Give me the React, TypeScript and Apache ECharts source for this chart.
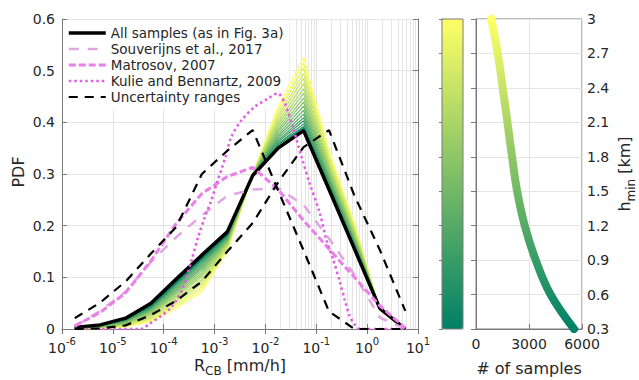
import React, { useEffect, useRef } from 'react';
import * as echarts from 'echarts';

// ---------- data ----------
// bin centres of R_CB, as log10 exponents
const binExp = [-5.75, -5.25, -4.75, -4.25, -3.75, -3.25, -2.75, -2.25, -1.75, -1.25, -0.75, -0.25, 0.25, 0.75];

const allSamples = [0.003, 0.008, 0.021, 0.05, 0.097, 0.143, 0.188, 0.297, 0.35, 0.384, 0.27, 0.155, 0.04, 0.0];
const souverijns = [0.005, 0.035, 0.072, 0.13, 0.178, 0.22, 0.258, 0.27, 0.273, 0.24, 0.175, 0.105, 0.022, 0.0];
const matrosov = [0.006, 0.032, 0.07, 0.132, 0.205, 0.262, 0.295, 0.313, 0.27, 0.21, 0.155, 0.1, 0.045, 0.002];
const uncLow = [0.021, 0.051, 0.092, 0.146, 0.198, 0.3, 0.345, 0.385, 0.268, 0.152, 0.034, 0.0, 0.0, 0.0];
const uncHigh = [0.0, 0.001, 0.007, 0.027, 0.055, 0.092, 0.15, 0.205, 0.284, 0.352, 0.385, 0.258, 0.153, 0.035];

const kulieExp = [-5.75, -4.45, -4.27, -4.07, -3.85, -3.62, -3.45, -3.32, -3.19, -3.06, -2.96, -2.86, -2.78, -2.67, -2.47, -2.21, -1.95, -1.76, -1.62, -1.46, -1.29, -1.13, -0.93, -0.8, -0.67, -0.54, -0.44, -0.34, -0.24, -0.15, 0.75];
const kulieVal = [0.0, 0.0, 0.011, 0.024, 0.042, 0.08, 0.134, 0.179, 0.217, 0.25, 0.282, 0.31, 0.335, 0.372, 0.404, 0.43, 0.446, 0.456, 0.437, 0.39, 0.333, 0.282, 0.224, 0.172, 0.135, 0.092, 0.056, 0.024, 0.008, 0.0, 0.0];

// PDFs for each minimum height h_min [km]
const fanHeights = [0.3, 0.45, 0.6, 0.75, 0.9, 1.05, 1.2, 1.35, 1.5, 1.65, 1.8, 1.95, 2.1, 2.25, 2.4, 2.55, 2.7, 2.85, 3.0];
const fanValues = [
  [0.002, 0.007, 0.019, 0.046, 0.092, 0.138, 0.184, 0.297, 0.352, 0.386, 0.272, 0.157, 0.042, 0],
  [0.002, 0.007, 0.019, 0.045, 0.091, 0.137, 0.183, 0.297, 0.353, 0.389, 0.273, 0.158, 0.042, 0],
  [0.002, 0.007, 0.018, 0.045, 0.090, 0.135, 0.182, 0.297, 0.356, 0.392, 0.275, 0.159, 0.042, 0],
  [0.002, 0.007, 0.018, 0.043, 0.088, 0.133, 0.181, 0.297, 0.358, 0.397, 0.278, 0.161, 0.042, 0],
  [0.002, 0.006, 0.017, 0.042, 0.086, 0.130, 0.180, 0.297, 0.362, 0.403, 0.281, 0.163, 0.041, 0],
  [0.002, 0.006, 0.017, 0.041, 0.083, 0.127, 0.178, 0.298, 0.365, 0.409, 0.284, 0.165, 0.041, 0],
  [0.002, 0.006, 0.016, 0.039, 0.081, 0.124, 0.177, 0.298, 0.369, 0.416, 0.288, 0.167, 0.041, 0],
  [0.001, 0.005, 0.015, 0.038, 0.078, 0.120, 0.175, 0.298, 0.373, 0.423, 0.291, 0.170, 0.040, 0],
  [0.001, 0.005, 0.014, 0.036, 0.075, 0.117, 0.173, 0.298, 0.377, 0.431, 0.295, 0.172, 0.040, 0],
  [0.001, 0.005, 0.013, 0.034, 0.072, 0.113, 0.171, 0.298, 0.382, 0.439, 0.300, 0.175, 0.040, 0],
  [0.001, 0.004, 0.012, 0.032, 0.069, 0.109, 0.169, 0.298, 0.386, 0.447, 0.304, 0.178, 0.039, 0],
  [0.001, 0.004, 0.011, 0.030, 0.066, 0.105, 0.167, 0.299, 0.391, 0.456, 0.309, 0.181, 0.039, 0],
  [0.001, 0.004, 0.010, 0.028, 0.063, 0.101, 0.165, 0.299, 0.396, 0.465, 0.313, 0.184, 0.039, 0],
  [0.001, 0.003, 0.010, 0.026, 0.059, 0.096, 0.162, 0.299, 0.401, 0.475, 0.318, 0.187, 0.038, 0],
  [0.001, 0.003, 0.008, 0.023, 0.055, 0.092, 0.160, 0.299, 0.407, 0.485, 0.323, 0.191, 0.038, 0],
  [0.000, 0.002, 0.007, 0.021, 0.052, 0.087, 0.158, 0.299, 0.412, 0.494, 0.329, 0.194, 0.037, 0],
  [0.000, 0.002, 0.006, 0.019, 0.048, 0.082, 0.155, 0.300, 0.418, 0.505, 0.334, 0.198, 0.037, 0],
  [0.000, 0.001, 0.005, 0.017, 0.044, 0.077, 0.153, 0.300, 0.424, 0.515, 0.339, 0.201, 0.037, 0],
  [0.000, 0.001, 0.004, 0.014, 0.040, 0.072, 0.150, 0.300, 0.430, 0.526, 0.345, 0.205, 0.036, 0],
];

// number of samples vs h_min (right panel)
const hMinLevels = [0.3, 0.6, 0.9, 1.2, 1.5, 1.8, 2.1, 2.4, 2.7, 3.0];
const sampleCounts = [5550, 4220, 3380, 2760, 2330, 2040, 1780, 1510, 1230, 870];

const yTickLabels = ['0', '0.1', '0.2', '0.3', '0.4', '0.5', '0.6'];

// ---------- style ----------
const FONT = 'DejaVu Sans';
const TXT = '#262626';
const AX = '#7a7a7a';
const GRID = '#e4e4e4';
const C0 = [0, 128, 102];
const C1 = [255, 255, 102];
function summer(h: number) {
  const f = (h - 0.3) / 2.7;
  const c = C0.map((a, i) => Math.round(a + (C1[i] - a) * f));
  return `rgb(${c[0]},${c[1]},${c[2]})`;
}
const pts = (exps: number[], vals: number[]) => exps.map((e, i) => [Math.pow(10, e), vals[i]]);

const minorGrid: number[] = [];
for (let d = -6; d <= 0; d++) for (let m = 2; m <= 9; m++) minorGrid.push(m * Math.pow(10, d));

const styles: Record<string, any> = {
  all: { width: 3.5, color: '#000', type: 'solid' },
  souv: { width: 2.5, color: '#e0a6e0', type: [10, 9] },
  matr: { width: 3, color: '#ea7fea', type: [7, 3] },
  kulie: { width: 2.6, color: '#e35ee3', type: [2.5, 3] },
  unc: { width: 2.2, color: '#000', type: [9, 7] },
};

const names = {
  all: 'All samples (as in Fig. 3a)',
  souv: 'Souverijns et al., 2017',
  matr: 'Matrosov, 2007',
  kulie: 'Kulie and Bennartz, 2009',
  unc: 'Uncertainty ranges',
};

function buildOption() {
  const series: any[] = [];
  series.push({
    type: 'line', xAxisIndex: 0, yAxisIndex: 0, data: [[1e-6, 0]], symbol: 'none', silent: true,
    lineStyle: { width: 0 }, z: 0,
    markLine: {
      silent: true, symbol: ['none', 'none'], label: { show: false }, z: 0,
      lineStyle: { color: GRID, type: 'solid', width: 1 },
      emphasis: { disabled: true },
      data: minorGrid.map((v) => ({ xAxis: v })),
    },
  });
  for (let k = fanHeights.length - 1; k >= 0; k--) {
    series.push({
      type: 'line', xAxisIndex: 0, yAxisIndex: 0, symbol: 'none', silent: true, z: 2,
      data: pts(binExp, fanValues[k]),
      lineStyle: { width: 1.2, color: summer(fanHeights[k]) },
    });
  }
  const add = (key: string, exps: number[], vals: number[], z: number, extra: any = {}) => {
    series.push({
      name: (names as any)[key], type: 'line', xAxisIndex: 0, yAxisIndex: 0, symbol: 'none', z,
      data: pts(exps, vals), lineStyle: { ...styles[key] }, itemStyle: { color: styles[key].color }, ...extra,
    });
  };
  add('all', binExp, allSamples, 3);
  add('souv', binExp, souverijns, 4);
  add('matr', binExp, matrosov, 4);
  add('kulie', kulieExp, kulieVal, 4, { smooth: 0.3 });
  add('unc', binExp, uncLow, 5);
  add('unc', binExp, uncHigh, 5);
  const samplesIndex = series.length;
  series.push({
    type: 'line', xAxisIndex: 2, yAxisIndex: 2, symbol: 'none', smooth: 0.4, silent: true, z: 3,
    data: sampleCounts.map((c, i) => [c, hMinLevels[i]]),
    lineStyle: { width: 8, cap: 'round', join: 'round' },
  });

  const baseAxis = {
    axisLine: { show: true, lineStyle: { color: AX, width: 1 } },
    axisTick: { show: true, inside: true, length: 5, lineStyle: { color: AX } },
  };
  const noLabel = { show: false };

  return {
    animation: false,
    textStyle: { fontFamily: FONT },
    grid: [
      { left: 62, top: 19, width: 356, height: 310, show: false },
      { left: 476, top: 19, width: 106, height: 310, show: true, borderColor: AX, borderWidth: 1, backgroundColor: 'transparent' },
      { left: 442, top: 19, width: 21, height: 310, show: true, borderColor: AX, borderWidth: 1, backgroundColor: 'transparent', z: 10 },
    ],
    xAxis: [
      {
        gridIndex: 0, type: 'log', logBase: 10, min: 1e-6, max: 10, position: 'bottom', ...baseAxis,
        axisLabel: {
          margin: 7, color: TXT,
          formatter: (v: number) => `{b|10}{s|${Math.round(Math.log10(v))}}`,
          rich: {
            b: { fontSize: 14, fontFamily: FONT, color: TXT, lineHeight: 24 },
            s: { fontSize: 10, fontFamily: FONT, color: TXT, lineHeight: 10, verticalAlign: 'top' },
          },
        },
        splitLine: { show: true, lineStyle: { color: GRID } },
      },
      { gridIndex: 0, type: 'log', logBase: 10, min: 1e-6, max: 10, position: 'top', ...baseAxis, axisLabel: noLabel, splitLine: { show: false } },
      {
        gridIndex: 1, type: 'value', min: 0, max: 6000, interval: 3000, position: 'bottom', ...baseAxis,
        axisLabel: { margin: 8, color: TXT, fontSize: 14, fontFamily: FONT, formatter: (v: number) => String(v) },
        splitLine: { show: true, lineStyle: { color: GRID } },
      },
      { gridIndex: 2, type: 'value', min: 0, max: 1, show: false },
    ],
    yAxis: [
      {
        gridIndex: 0, type: 'value', min: 0, max: 0.6, interval: 0.1, position: 'left', ...baseAxis,
        axisLabel: { margin: 7, color: TXT, fontSize: 14, fontFamily: FONT, formatter: (v: number) => yTickLabels[Math.round(v * 10)] },
        splitLine: { show: true, lineStyle: { color: GRID } },
      },
      { gridIndex: 0, type: 'value', min: 0, max: 0.6, interval: 0.1, position: 'right', ...baseAxis, axisLabel: noLabel, splitLine: { show: false } },
      {
        gridIndex: 1, type: 'value', min: 0.3, max: 3, interval: 0.3, position: 'right', ...baseAxis,
        axisLabel: { margin: 5, color: TXT, fontSize: 14, fontFamily: FONT, formatter: (v: number) => String(+v.toFixed(1)) },
        splitLine: { show: true, lineStyle: { color: GRID } },
      },
      {
        gridIndex: 2, type: 'value', min: 0.3, max: 3, interval: 0.3, position: 'right',
        axisLine: { show: true, lineStyle: { color: AX } },
        axisTick: { show: true, inside: true, length: 3, lineStyle: { color: AX } },
        axisLabel: noLabel, splitLine: { show: false },
      },
    ],
    visualMap: {
      type: 'continuous', min: 0.3, max: 3, dimension: 1, seriesIndex: samplesIndex,
      inRange: { color: ['#008066', '#ffff66'] },
      left: 442, top: 19, itemWidth: 21, itemHeight: 310, padding: 0,
      calculable: false, hoverLink: false, orient: 'vertical', showLabel: false,
    },
    legend: {
      data: (['all', 'souv', 'matr', 'kulie', 'unc'] as const).map((k) => ({
        name: (names as any)[k], lineStyle: { ...styles[k] },
      })),
      orient: 'vertical', left: 63, top: 20, padding: [5, 6, 4, 4], z: 1,
      backgroundColor: '#ffffff', itemWidth: 37, itemHeight: 16, itemGap: 0, selectedMode: false,
      itemStyle: { opacity: 0 },
      textStyle: { fontSize: 13.5, fontFamily: FONT, color: TXT, lineHeight: 16 },
    },
    graphic: [
      {
        type: 'text', x: 240, y: 365, silent: true,
        style: {
          text: '{a|R}{s|CB}{a| [mm/h]}', align: 'center', verticalAlign: 'middle',
          rich: {
            a: { fontSize: 16, fontFamily: FONT, fill: TXT, lineHeight: 24 },
            s: { fontSize: 12, fontFamily: FONT, fill: TXT, lineHeight: 12, verticalAlign: 'bottom' },
          },
        },
      },
      {
        type: 'text', x: 18, y: 172, rotation: Math.PI / 2, silent: true,
        style: { text: 'PDF', fontSize: 16, fontFamily: FONT, fill: TXT, align: 'center', verticalAlign: 'middle' },
      },
      {
        type: 'text', x: 529, y: 368, silent: true,
        style: { text: '# of samples', fontSize: 16, fontFamily: FONT, fill: TXT, align: 'center', verticalAlign: 'middle' },
      },
      {
        type: 'text', x: 624, y: 174, rotation: Math.PI / 2, silent: true,
        style: {
          text: '{a|h}{s|min}{a| [km]}', align: 'center', verticalAlign: 'middle',
          rich: {
            a: { fontSize: 16, fontFamily: FONT, fill: TXT, lineHeight: 26 },
            s: { fontSize: 12, fontFamily: FONT, fill: TXT, lineHeight: 12, verticalAlign: 'bottom' },
          },
        },
      },
    ],
    series,
  };
}

export default function App() {
  const ref = useRef<HTMLDivElement>(null);
  useEffect(() => {
    const chart = echarts.init(ref.current!, undefined, { renderer: 'svg' });
    chart.setOption(buildOption() as any);
    return () => chart.dispose();
  }, []);
  return <div ref={ref} style={{ position: 'absolute', left: 0, top: 0, width: 639, height: 380, background: '#fff' }} />;
}
